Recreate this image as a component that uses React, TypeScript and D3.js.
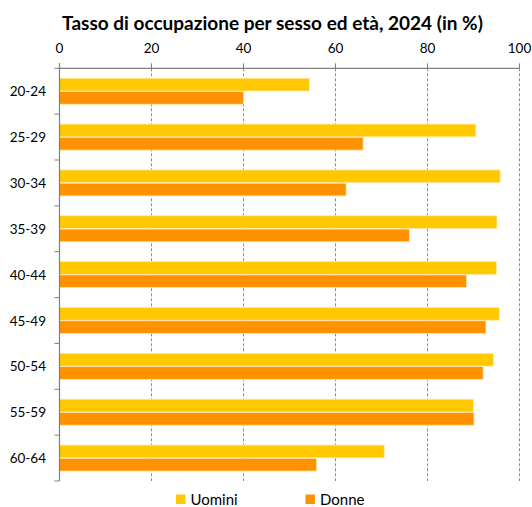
import React from "react";
import * as d3 from "d3";

const categories = ["20-24", "25-29", "30-34", "35-39", "40-44", "45-49", "50-54", "55-59", "60-64"];
const uomini = [54.3, 90.5, 95.8, 95.1, 95.0, 95.6, 94.3, 90.0, 70.6];
const donne = [40.0, 66.0, 62.3, 76.1, 88.5, 92.7, 92.1, 90.1, 55.9];
const seriesNames = ["Uomini", "Donne"];
const xTicks = [0, 20, 40, 60, 80, 100];
const title = "Tasso di occupazione per sesso ed età, 2024 (in %)";

const colors = ["#FFC800", "#FF9200"];
const W = 532;
const H = 507;
const margin = { left: 59.5, right: 12.5, top: 68.3, bottom: 26 };
const font = "Lato, 'Open Sans', sans-serif";

export default function App() {
  const x = d3.scaleLinear().domain([0, 100]).range([margin.left, W - margin.right]);
  const y = d3
    .scaleBand<string>()
    .domain(categories)
    .range([margin.top, H - margin.bottom])
    .paddingInner(0.41)
    .paddingOuter(0.205);
  const yInner = d3.scaleBand<string>().domain(seriesNames).range([0, y.bandwidth()]).padding(0.04);
  const step = y.step();
  const plotTop = margin.top;
  const plotBottom = H - margin.bottom;
  const data = [uomini, donne];
  const catBounds = d3.range(categories.length + 1).map((i) => plotTop + i * step);

  return (
    <svg width={W} height={H} style={{ position: "absolute", left: 0, top: 0, background: "#fff" }}>
      <text x={272.5} y={29.5} textAnchor="middle" fontFamily={font} fontWeight={700} fontSize={19} fill="#000">
        {title}
      </text>
      {/* gridlines */}
      {xTicks.slice(1).map((t) => (
        <line
          key={"g" + t}
          x1={x(t)}
          x2={x(t)}
          y1={plotTop}
          y2={plotBottom}
          stroke="#8c8c8c"
          strokeWidth={1}
          strokeDasharray="3,2"
        />
      ))}
      {/* bars */}
      {categories.map((c, i) =>
        seriesNames.map((s, j) => (
          <rect
            key={c + s}
            x={x(0)}
            y={(y(c) as number) + (yInner(s) as number)}
            width={x(data[j][i]) - x(0)}
            height={yInner.bandwidth()}
            fill={colors[j]}
            stroke="#FFE9A6"
            strokeWidth={0.8}
          />
        ))
      )}
      {/* top axis */}
      <line x1={x(0)} x2={x(100)} y1={plotTop} y2={plotTop} stroke="#7f7f7f" strokeWidth={1.2} />
      {xTicks.map((t) => (
        <g key={"t" + t}>
          <line x1={x(t)} x2={x(t)} y1={plotTop - 5} y2={plotTop} stroke="#7f7f7f" strokeWidth={1} />
          <text x={x(t)} y={53} textAnchor="middle" fontFamily={font} fontSize={13.5} fill="#000">
            {t}
          </text>
        </g>
      ))}
      {/* left axis */}
      <line x1={x(0)} x2={x(0)} y1={plotTop - 5} y2={plotBottom} stroke="#7f7f7f" strokeWidth={1.2} />
      {catBounds.map((b, i) => (
        <line key={"cb" + i} x1={x(0) - 5} x2={x(0)} y1={b} y2={b} stroke="#7f7f7f" strokeWidth={1} />
      ))}
      {categories.map((c) => (
        <text
          key={"l" + c}
          x={46}
          y={(y(c) as number) + y.bandwidth() / 2 + 5}
          textAnchor="end"
          fontFamily={font}
          fontSize={13.5}
          fill="#000"
        >
          {c}
        </text>
      ))}
      {/* legend */}
      {seriesNames.map((s, j) => {
        const lx = j === 0 ? 176 : 305.5;
        return (
          <g key={"lg" + s}>
            <rect x={lx} y={494.5} width={9.5} height={9.5} fill={colors[j]} />
            <text x={lx + 14.5} y={505} fontFamily={font} fontSize={15} fill="#000">
              {s}
            </text>
          </g>
        );
      })}
    </svg>
  );
}
